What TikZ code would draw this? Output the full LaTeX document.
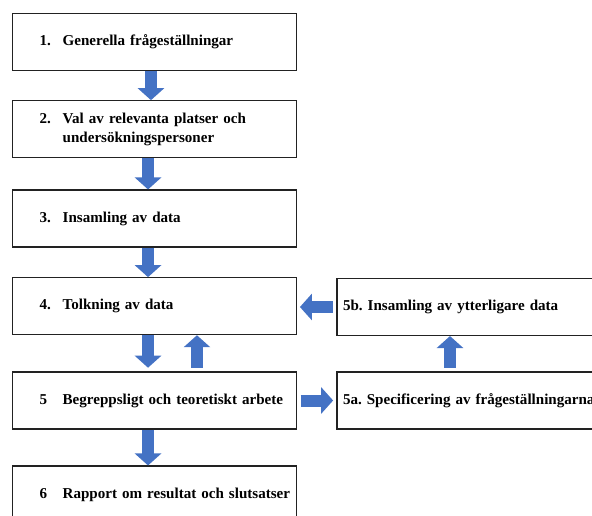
\documentclass[tikz,border=0pt]{standalone}
\usepackage{fontspec}
\setmainfont{Liberation Serif}
\usepackage{xcolor}
\usetikzlibrary{arrows.meta}
\definecolor{bluex}{HTML}{4472C4}
\definecolor{edgex}{HTML}{222222}
\frenchspacing
\tikzset{
  box/.style={draw=edgex,line width=0.8pt,text width=213pt,inner xsep=0pt,minimum height=42.75pt,align=left,font=\fontsize{11.3}{14.3}\selectfont\bfseries},
  sidebox/.style={box,text width=216pt,inner xsep=4.5pt},
  fat/.style={draw=bluex,line width=9pt,-{Triangle[width=19.5pt,length=9pt]}}
}
\newcommand{\nr}[1]{\hspace*{20.25pt}\makebox[17.25pt][l]{#1}}

\begin{document}
\begin{tikzpicture}[x=0.75pt,y=-0.75pt]
\useasboundingbox (0,0) rectangle (592,516);
\clip (0,0) rectangle (592,516);
\node[box] (b1) at (154.7,42.1) {\nr{1.}Generella frågeställningar};
\node[box] (b2) at (154.7,129.2) {\nr{2.}Val av relevanta platser och\\\nr{}undersökningspersoner};
\node[box] (b3) at (154.7,218.5) {\nr{3.}Insamling av data};
\node[box] (b4) at (154.7,306.2) {\nr{4.}Tolkning av data};
\node[box] (b5) at (154.7,400.5) {\nr{5}Begreppsligt och teoretiskt arbete};
\node[box] (b6) at (154.7,494.5) {\nr{6}Rapport om resultat och slutsatser};
\node[sidebox] (b5b) at (487,307) {5b. Insamling av ytterligare data};
\node[sidebox] (b5a) at (487,400.5) {5a. Specificering av frågeställningarna};
% main chain
\draw[fat] ([xshift=-2.8pt]b1.south) -- ([xshift=-2.8pt]b2.north);
\draw[fat] ([xshift=-5pt]b2.south) -- ([xshift=-5pt]b3.north);
\draw[fat] ([xshift=-5pt]b3.south) -- ([xshift=-5pt]b4.north);
\draw[fat,shorten >=2.8pt] ([xshift=-5pt]b4.south) -- ([xshift=-5pt]b5.north);
\draw[fat,shorten <=2.8pt] ([xshift=31.7pt]b5.north) -- ([xshift=31.7pt]b4.south);
\draw[fat] ([xshift=-5pt]b5.south) -- ([xshift=-5pt]b6.north);
% side loop
\draw[fat,shorten <=2.5pt,shorten >=2.5pt] (b5.east) -- (b5a.west);
\draw[fat,shorten <=2.8pt] ([xshift=-27.75pt]b5a.north) -- ([xshift=-27.75pt]b5b.south);
\draw[fat,shorten <=2.8pt,shorten >=2pt] (b5b.west) -- (b4.east |- b5b.west);
\end{tikzpicture}
\end{document}
